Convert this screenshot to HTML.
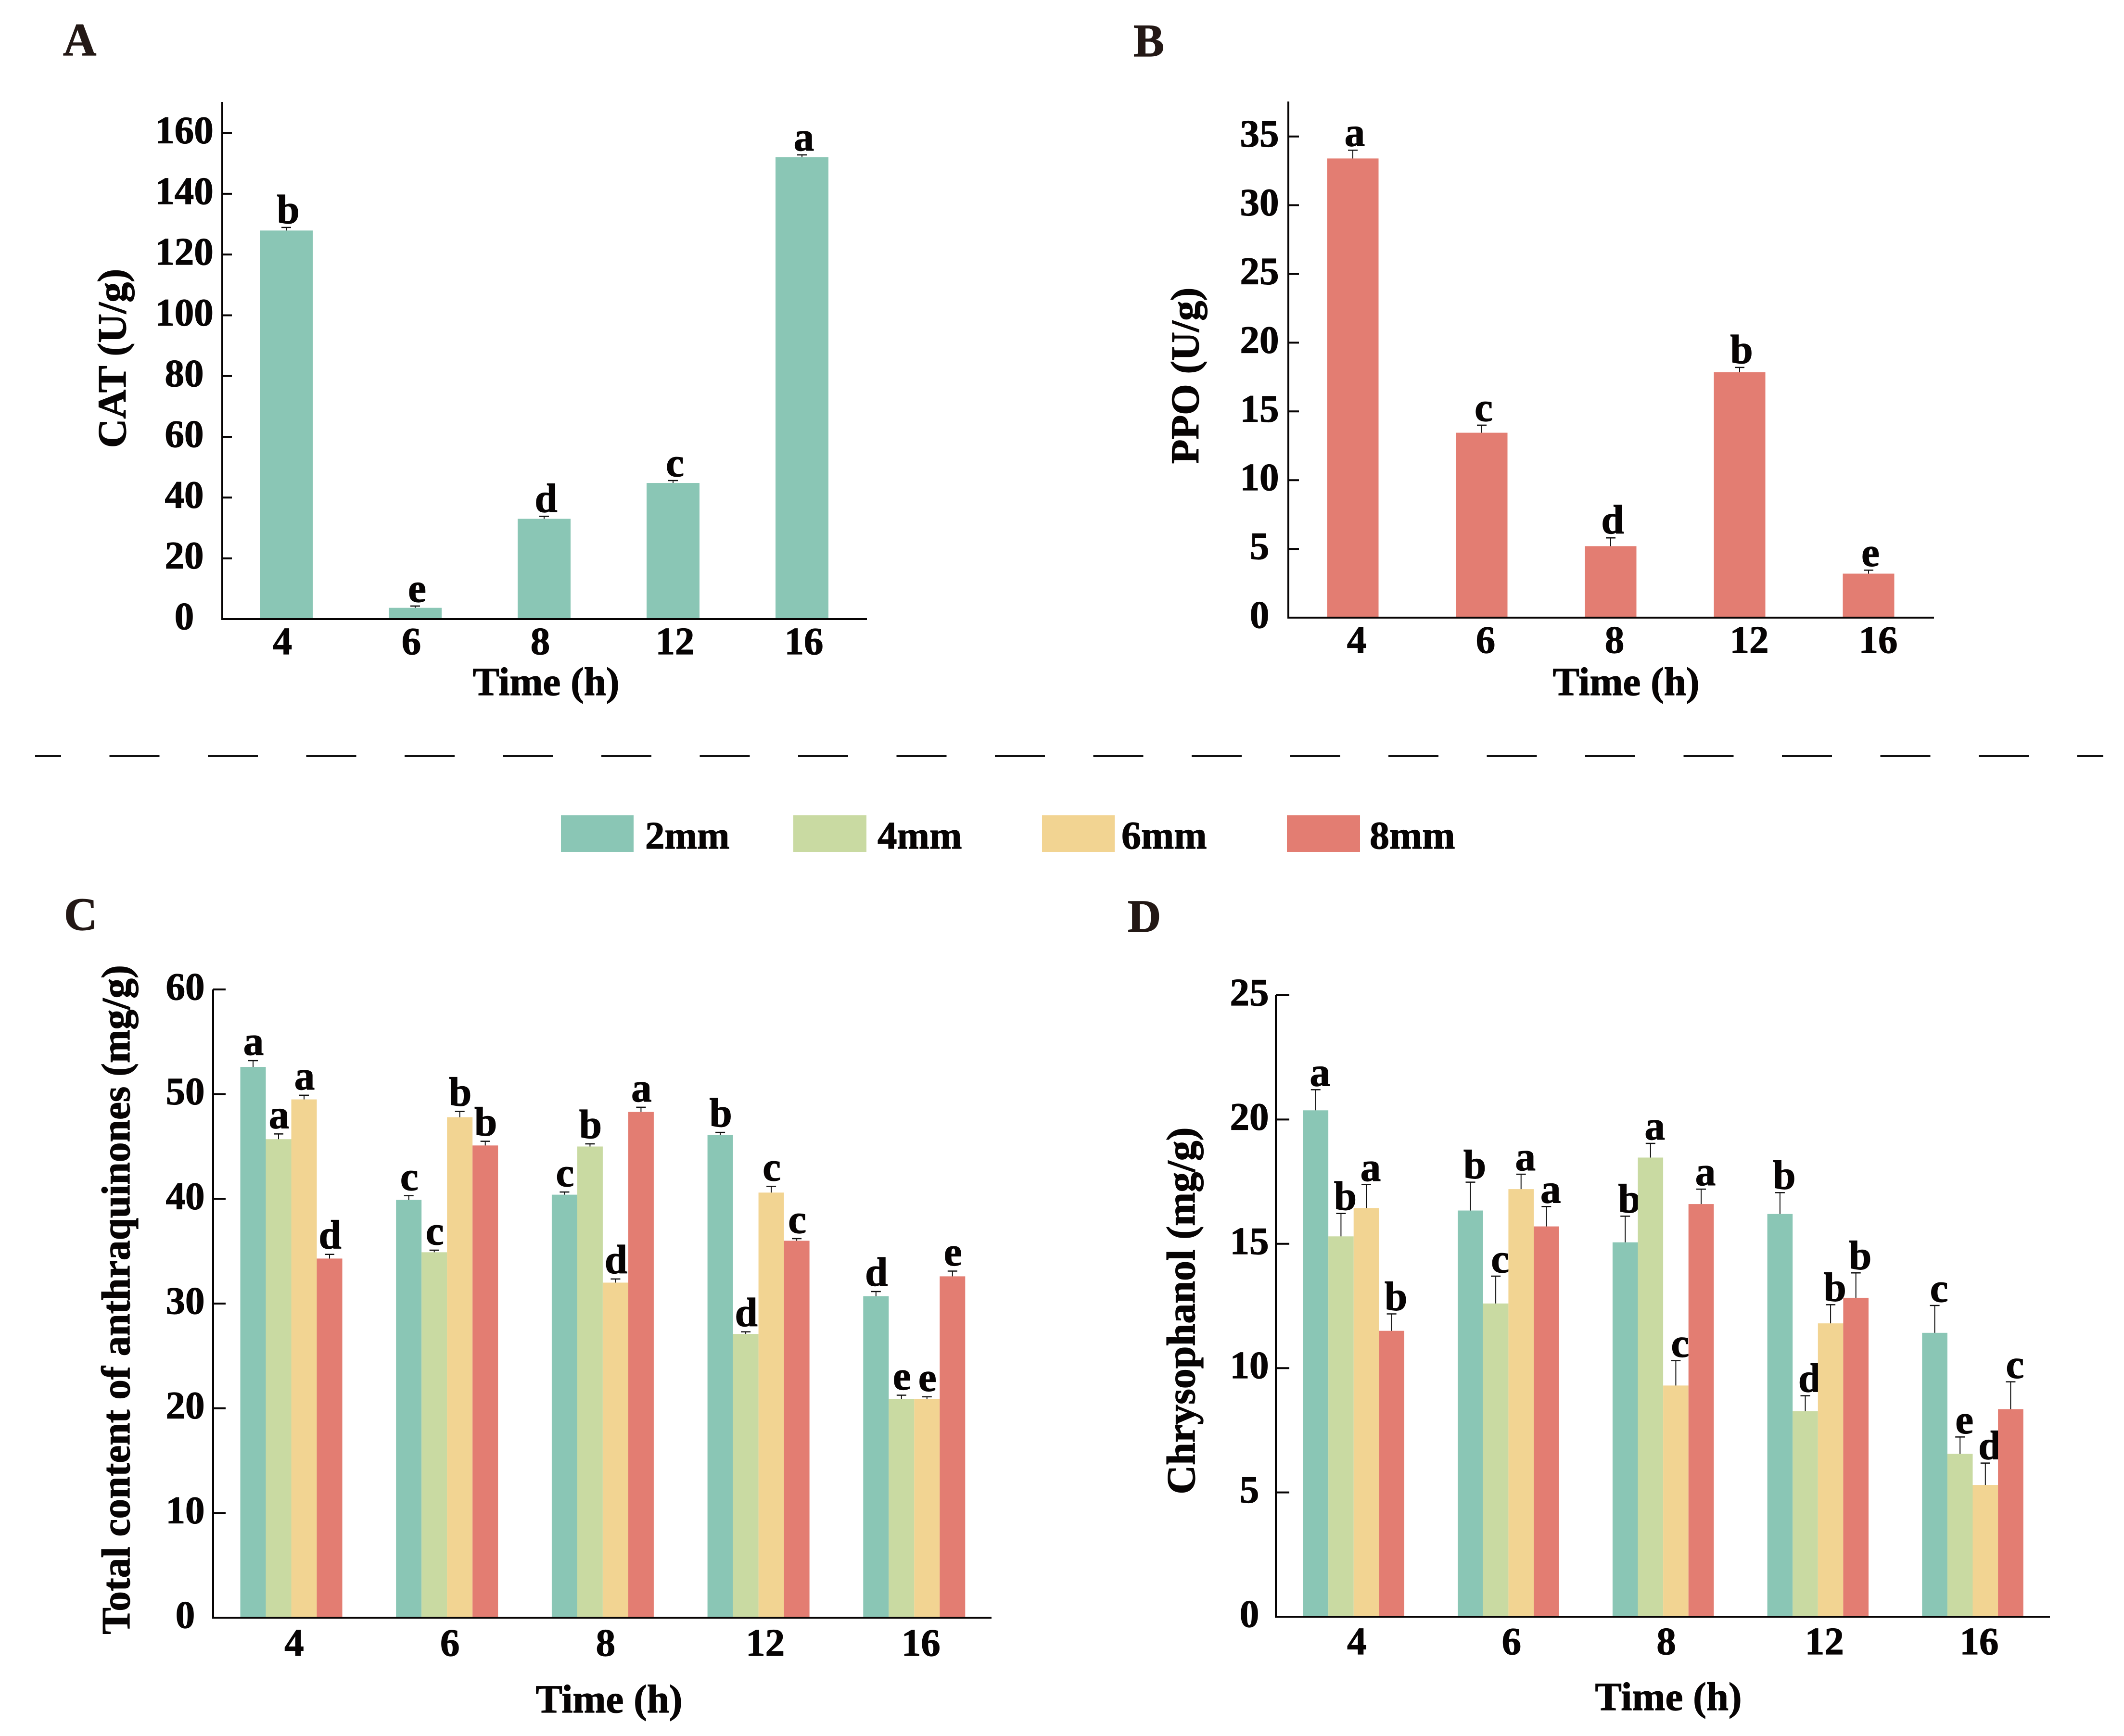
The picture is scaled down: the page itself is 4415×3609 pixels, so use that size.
<!DOCTYPE html>
<html lang="en">
<head>
<meta charset="utf-8">
<title>CAT, PPO, anthraquinone and chrysophanol bar charts</title>
<style>
html,body{margin:0;padding:0;background:#fff;}
svg{display:block;}
text{font-family:"Liberation Serif",serif;font-weight:bold;fill:#070404;stroke:#070404;stroke-width:1.2;}
</style>
</head>
<body>
<svg id="fig" xmlns="http://www.w3.org/2000/svg" width="4415" height="3609" viewBox="0 0 4415 3609">
<rect width="4415" height="3609" fill="#fff"/>
<line x1="73" y1="1572" x2="4372" y2="1572" stroke="#111" stroke-width="4" stroke-dasharray="104 100.5" stroke-dashoffset="50"/>
<g>
<rect x="1166" y="1695" width="151" height="76" fill="#8AC6B5"/>
<text x="1341" y="1764" font-size="81">2mm</text>
<rect x="1649" y="1695" width="152" height="76" fill="#C9DAA2"/>
<text x="1824" y="1764" font-size="81">4mm</text>
<rect x="2166" y="1695" width="151" height="76" fill="#F2D492"/>
<text x="2331" y="1764" font-size="82">6mm</text>
<rect x="2675" y="1695" width="152" height="76" fill="#E37D72"/>
<text x="2847" y="1764" font-size="82">8mm</text>
</g>
<text x="131" y="115" font-size="96" style="fill:#231815;stroke:#231815">A</text>
<text x="2356" y="117" font-size="96" style="fill:#231815;stroke:#231815">B</text>
<text x="133" y="1933" font-size="96" style="fill:#231815;stroke:#231815">C</text>
<text x="2344" y="1937" font-size="96" style="fill:#231815;stroke:#231815">D</text>
</svg>
<script>
// Shared categories
var timeCategories = ['4', '6', '8', '12', '16'];
var seriesNames = ['2mm', '4mm', '6mm', '8mm'];

// Panel A
var catValues = [127.9, 3.7, 33, 44.8, 152];
var catErrors = [1, 0.6, 0.8, 0.8, 0.8];
var catLetters = ['b', 'e', 'd', 'c', 'a'];
var catTicks = [0, 20, 40, 60, 80, 100, 120, 140, 160];

// Panel B
var ppoValues = [33.4, 13.45, 5.2, 17.85, 3.2];
var ppoErrors = [0.6, 0.55, 0.6, 0.35, 0.25];
var ppoLetters = ['a', 'c', 'd', 'b', 'e'];
var ppoTicks = [0, 5, 10, 15, 20, 25, 30, 35];

// Panel C: one row per time, one column per size
var totalValues = [
  [52.6, 45.7, 49.5, 34.3],
  [39.9, 34.9, 47.8, 45.1],
  [40.4, 45.0, 32.0, 48.3],
  [46.1, 27.1, 40.6, 36.0],
  [30.7, 20.9, 20.9, 32.6]
];
var totalErrors = [
  [0.6, 0.5, 0.4, 0.4],
  [0.4, 0.2, 0.55, 0.4],
  [0.25, 0.25, 0.35, 0.45],
  [0.25, 0.2, 0.6, 0.2],
  [0.45, 0.35, 0.2, 0.5]
];
var totalLetters = [
  ['a', 'a', 'a', 'd'],
  ['c', 'c', 'b', 'b'],
  ['c', 'b', 'd', 'a'],
  ['b', 'd', 'c', 'c'],
  ['d', 'e', 'e', 'e']
];
var totalTicks = [0, 10, 20, 30, 40, 50, 60];

// Panel D
var chrysoValues = [
  [20.37, 15.3, 16.44, 11.5],
  [16.34, 12.6, 17.2, 15.7],
  [15.06, 18.47, 9.3, 16.6],
  [16.2, 8.27, 11.8, 12.83],
  [11.42, 6.55, 5.3, 8.35]
];
var chrysoErrors = [
  [0.83, 0.92, 0.94, 0.68],
  [1.14, 1.1, 0.6, 0.8],
  [1.05, 0.57, 1.0, 0.6],
  [0.86, 0.62, 0.75, 1.0],
  [1.1, 0.68, 0.88, 1.1]
];
var chrysoLetters = [
  ['a', 'b', 'a', 'b'],
  ['b', 'c', 'a', 'a'],
  ['b', 'a', 'c', 'a'],
  ['b', 'd', 'b', 'b'],
  ['c', 'e', 'd', 'c']
];
var chrysoTicks = [0, 5, 10, 15, 20, 25];

var SVGNS = 'http://www.w3.org/2000/svg';
var fig = document.getElementById('fig');
var TEAL = '#8AC6B5';
var RED = '#E37D72';
var seriesColors = [TEAL, '#C9DAA2', '#F2D492', RED];

function mk(tag, name, parent, attrs) {
  var el = document.createElementNS(SVGNS, tag);
  
  
  for (var k in attrs) { el.setAttribute(k, attrs[k]); }
  parent.appendChild(el);
  return el;
}
function label(name, parent, x, y, str, size, anchor, rotate) {
  var attrs = { x: x, y: y, 'font-size': size, 'text-anchor': anchor || 'middle' };
  if (rotate) { attrs.transform = 'rotate(-90 ' + x + ' ' + y + ')'; }
  var t = mk('text', name, parent, attrs);
  t.textContent = str;
  return t;
}

function drawPanel(p) {
  var g = mk('g', p.id + '-chart', fig, {});
  var yMax = p.ticks[p.ticks.length - 1];
  function yScale(v) { return p.base - (v / yMax) * (p.base - p.topTick); }
  function xBar(i, s) { return p.x0 + i * p.step + s * p.barW; }

  // bars, error bars, significance letters
  p.categories.forEach(function (cat, i) {
    var vals = p.values[i], errs = p.errors[i], lets = p.letters[i];
    vals.forEach(function (v, s) {
      var bx = xBar(i, s);
      var top = yScale(v);
      var errTop = yScale(v + errs[s]);
      var cx = bx + p.barW / 2;
      var color = p.colors[s];
      mk('rect', 'bar-' + cat + 'h-' + p.seriesLabel[s], g, { x: bx, y: top, width: p.barW, height: p.base - top, fill: color });
      mk('line', 'error-stem-' + cat + 'h-' + p.seriesLabel[s], g, { x1: cx, y1: top, x2: cx, y2: errTop, stroke: '#111', 'stroke-width': 2 });
      mk('line', 'error-cap-' + cat + 'h-' + p.seriesLabel[s], g, { x1: cx - 10, y1: errTop, x2: cx + 10, y2: errTop, stroke: '#111', 'stroke-width': 2.5 });
      label('significance-' + cat + 'h-' + p.seriesLabel[s], g, cx + p.letterDx, errTop - p.letterGap, lets[s], 85);
    });
  });

  // axes
  mk('line', p.id + '-y-axis', g, { x1: p.axisX, y1: p.axisTop, x2: p.axisX, y2: p.base + 2, stroke: '#070404', 'stroke-width': 4 });
  mk('line', p.id + '-x-axis', g, { x1: p.axisX - 2, y1: p.base, x2: p.axisRight, y2: p.base, stroke: '#070404', 'stroke-width': 4 });

  // y ticks
  p.ticks.forEach(function (t) {
    var y = yScale(t);
    if (t !== 0) {
      mk('line', p.id + '-y-tick-' + t, g, { x1: p.axisX, y1: y, x2: p.axisX + p.tickLen, y2: y, stroke: '#070404', 'stroke-width': 4 });
    }
    label(p.id + '-y-tick-label-' + t, g, p.yLabelX, y + 21, String(t), 81);
  });

  // x tick labels
  p.categories.forEach(function (cat, i) {
    var groupCenter = p.x0 + i * p.step + p.barW * p.values[i].length / 2;
    var dx = cat.length > 1 ? p.xDx2 : p.xDx1;
    label(p.id + '-x-tick-label-' + cat, g, groupCenter + dx, p.xLabelY, cat, 81);
  });

  label(p.id + '-x-axis-title', g, p.xTitleX, p.xTitleY, 'Time (h)', 83);
  label(p.id + '-y-axis-title', g, p.yTitleX, p.yTitleY, p.yTitle, p.yTitleSize, 'middle', true);
}

function wrap(arr) { return arr.map(function (v) { return [v]; }); }

drawPanel({
  id: 'cat', categories: timeCategories, values: wrap(catValues), errors: wrap(catErrors), letters: wrap(catLetters),
  ticks: catTicks, colors: [TEAL], seriesLabel: ['bar'], yTitle: 'CAT (U/g)', yTitleSize: 84,
  base: 1287, topTick: 276.5, axisX: 462, axisTop: 212, axisRight: 1802, tickLen: 20,
  x0: 540, step: 268, barW: 110, letterDx: 4, letterGap: 9,
  yLabelX: 383, xLabelY: 1360, xDx1: -8, xDx2: 4,
  xTitleX: 1135, xTitleY: 1445, yTitleX: 261, yTitleY: 745
});
drawPanel({
  id: 'ppo', categories: timeCategories, values: wrap(ppoValues), errors: wrap(ppoErrors), letters: wrap(ppoLetters),
  ticks: ppoTicks, colors: [RED], seriesLabel: ['bar'], yTitle: 'PPO (U/g)', yTitleSize: 83,
  base: 1284, topTick: 283.7, axisX: 2678, axisTop: 211, axisRight: 4020, tickLen: 22,
  x0: 2758.5, step: 268, barW: 107, letterDx: 4, letterGap: 9,
  yLabelX: 2618, xLabelY: 1357, xDx1: 8, xDx2: 20,
  xTitleX: 3380, xTitleY: 1445, yTitleX: 2491, yTitleY: 781
});
drawPanel({
  id: 'total', categories: timeCategories, values: totalValues, errors: totalErrors, letters: totalLetters,
  ticks: totalTicks, colors: seriesColors, seriesLabel: seriesNames, yTitle: 'Total content of anthraquinones (mg/g)', yTitleSize: 83.4,
  base: 3363, topTick: 2057, axisX: 443, axisTop: 2057, axisRight: 2061, tickLen: 26,
  x0: 499.5, step: 323.7, barW: 53, letterDx: 1, letterGap: 12,
  yLabelX: 385, xLabelY: 3442, xDx1: 6, xDx2: 14,
  xTitleX: 1266, xTitleY: 3560, yTitleX: 269, yTitleY: 2702
});
drawPanel({
  id: 'chrysophanol', categories: timeCategories, values: chrysoValues, errors: chrysoErrors, letters: chrysoLetters,
  ticks: chrysoTicks, colors: seriesColors, seriesLabel: seriesNames, yTitle: 'Chrysophanol (mg/g)', yTitleSize: 84,
  base: 3361, topTick: 2069, axisX: 2652, axisTop: 2069, axisRight: 4261, tickLen: 28,
  x0: 2708.5, step: 321.7, barW: 52.6, letterDx: 9, letterGap: 8,
  yLabelX: 2597, xLabelY: 3439, xDx1: 6.5, xDx2: 13.5,
  xTitleX: 3468, xTitleY: 3555, yTitleX: 2483, yTitleY: 2725
});
</script>
</body>
</html>
